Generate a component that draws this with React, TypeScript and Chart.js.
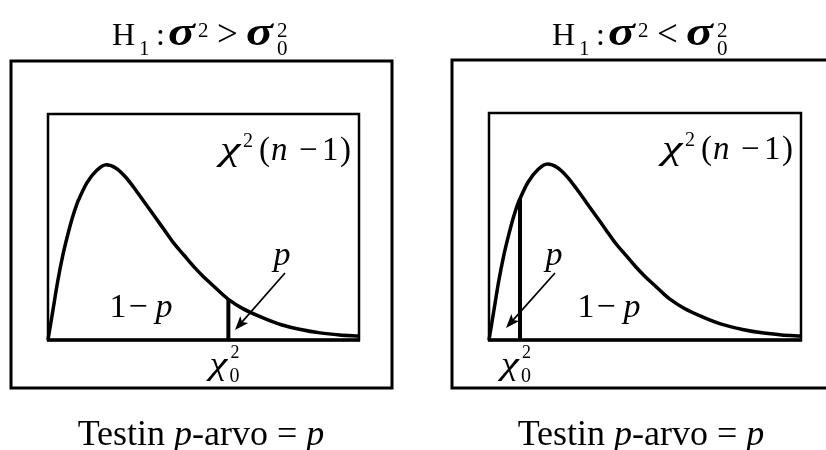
import React, { useEffect, useRef } from "react";
import { Chart, registerables } from "chart.js";

Chart.register(...registerables);

// Chi-square density with n-1 degrees of freedom, sampled along the x axis
const chiGrid = [0, 0.25, 0.5, 0.75, 1, 1.25, 1.5, 1.59, 2, 2.5, 3, 3.5, 4, 4.5, 5, 5.5, 6, 6.5, 7, 7.5, 8, 8.5, 9, 9.28, 10, 11, 12, 13, 14, 15, 16];
const chiDensity = [0, 0.026, 0.052, 0.074, 0.092, 0.108, 0.121, 0.1246, 0.139, 0.15, 0.155, 0.152, 0.144, 0.133, 0.121, 0.109, 0.097, 0.085, 0.075, 0.065, 0.056, 0.048, 0.04, 0.036, 0.028, 0.02, 0.0135, 0.0093, 0.0063, 0.0045, 0.0035];

// Observed test statistic for each alternative hypothesis
const upperStatistic = 9.28;
const upperStatisticDensity = 0.036;
const lowerStatistic = 1.59;
const lowerStatisticDensity = 0.1246;

const X_MAX = 16;
const Y_MAX = 0.2;

const FAM = '"Liberation Serif", "Times New Roman", serif';

type Piece = {
  t: string;
  px: number;
  it?: boolean;
  b?: boolean;
  dy?: number;
  at?: number; // fixed offset from the start of the run
  pre?: number; // extra space before the piece
  sx?: number; // horizontal stretch
  back?: boolean; // stack on the previous piece
};

function fontOf(p: Piece) {
  return `${p.it ? "italic " : ""}${p.b ? "bold " : ""}${p.px}px ${FAM}`;
}

function drawRich(ctx: CanvasRenderingContext2D, pieces: Piece[], x: number, y: number, align: "left" | "center" | "right") {
  let cx = 0;
  let prevStart = 0;
  let max = 0;
  const placed: { p: Piece; x: number }[] = [];
  for (const p of pieces) {
    ctx.font = fontOf(p);
    const w = ctx.measureText(p.t).width * (p.sx || 1);
    if (p.at !== undefined) cx = p.at;
    else if (p.back) cx = prevStart;
    else cx += p.pre || 0;
    placed.push({ p, x: cx });
    prevStart = cx;
    cx += w;
    max = Math.max(max, cx);
  }
  const start = align === "left" ? x : align === "center" ? x - max / 2 : x - max;
  ctx.save();
  ctx.fillStyle = "#000";
  ctx.textBaseline = "alphabetic";
  ctx.textAlign = "left";
  for (const { p, x: px } of placed) {
    ctx.save();
    ctx.font = fontOf(p);
    ctx.translate(start + px, y + (p.dy || 0));
    if (p.sx) ctx.scale(p.sx, 1);
    ctx.fillText(p.t, 0, 0);
    ctx.restore();
  }
  ctx.restore();
}

function arrow(ctx: CanvasRenderingContext2D, x1: number, y1: number, x2: number, y2: number) {
  const ang = Math.atan2(y2 - y1, x2 - x1);
  const head = 15;
  const spread = 0.36;
  ctx.save();
  ctx.strokeStyle = "#000";
  ctx.fillStyle = "#000";
  ctx.lineWidth = 1.7;
  ctx.beginPath();
  ctx.moveTo(x1, y1);
  ctx.lineTo(x2 - Math.cos(ang) * head * 0.7, y2 - Math.sin(ang) * head * 0.7);
  ctx.stroke();
  ctx.beginPath();
  ctx.moveTo(x2, y2);
  ctx.lineTo(x2 - head * Math.cos(ang - spread), y2 - head * Math.sin(ang - spread));
  ctx.lineTo(x2 - head * 0.72 * Math.cos(ang), y2 - head * 0.72 * Math.sin(ang));
  ctx.lineTo(x2 - head * Math.cos(ang + spread), y2 - head * Math.sin(ang + spread));
  ctx.closePath();
  ctx.fill();
  ctx.restore();
}

type PanelSpec = {
  relation: string;
  statistic: number;
  statisticDensity: number;
  padding: { left: number; right: number; top: number; bottom: number };
  outer: { x1: number; y1: number; x2: number; y2: number };
  titleLeft: number;
  captionX: number;
  oneMinusPX: number; // centre of "1 − p"
  pLabelX: number; // centre of "p"
  arrowFrom: [number, number];
  arrowTo: [number, number];
};

const panels: PanelSpec[] = [
  {
    relation: ">",
    statistic: upperStatistic,
    statisticDensity: upperStatisticDensity,
    padding: { left: 48, right: 54, top: 114, bottom: 110 },
    outer: { x1: 11, y1: 61, x2: 392, y2: 388 },
    titleLeft: 112,
    captionX: 201,
    oneMinusPX: 141,
    pLabelX: 282,
    arrowFrom: [285, 273],
    arrowTo: [235, 330],
  },
  {
    relation: "<",
    statistic: lowerStatistic,
    statisticDensity: lowerStatisticDensity,
    padding: { left: 76, right: 25, top: 113, bottom: 110 },
    outer: { x1: 39, y1: 60, x2: 440, y2: 388 },
    titleLeft: 139,
    captionX: 228,
    oneMinusPX: 196,
    pLabelX: 141,
    arrowFrom: [142, 273],
    arrowTo: [93, 328],
  },
];

function Panel({ spec }: { spec: PanelSpec }) {
  const ref = useRef<HTMLCanvasElement>(null);
  useEffect(() => {
    const canvas = ref.current!;
    const decor = {
      id: "decor",
      afterDraw(chart: any) {
        const ctx: CanvasRenderingContext2D = chart.ctx;
        const a = chart.chartArea;
        const xs = chart.scales.x;
        ctx.save();
        ctx.strokeStyle = "#000";
        // outer frame
        ctx.lineWidth = 3;
        const o = spec.outer;
        ctx.strokeRect(o.x1, o.y1, o.x2 - o.x1, o.y2 - o.y1);
        // plot frame
        ctx.lineWidth = 2.5;
        ctx.strokeRect(a.left, a.top, a.right - a.left, a.bottom - a.top);
        ctx.lineWidth = 3.5;
        ctx.beginPath();
        ctx.moveTo(a.left - 1, a.bottom);
        ctx.lineTo(a.right + 1, a.bottom);
        ctx.stroke();
        ctx.restore();

        // hypothesis title
        drawRich(ctx, [
          { t: "H", px: 32, at: 0 },
          { t: "1", px: 21, dy: 10, at: 27 },
          { t: ":", px: 32, at: 44 },
          { t: "σ", px: 40, it: true, b: true, sx: 1.25, at: 56 },
          { t: "2", px: 21, dy: -8, at: 86 },
          { t: spec.relation, px: 37, dy: 1, at: 105 },
          { t: "σ", px: 40, it: true, b: true, sx: 1.25, at: 134 },
          { t: "2", px: 21, dy: -8, at: 165 },
          { t: "0", px: 21, dy: 10, at: 165 },
        ], spec.titleLeft, 45, "left");

        // distribution label
        drawRich(ctx, [
          { t: "χ", px: 33, it: true, sx: 1.4, at: 0 },
          { t: "2", px: 20, dy: -13, at: 23 },
          { t: "(", px: 33, at: 39 },
          { t: "n", px: 33, it: true, at: 51 },
          { t: "−", px: 33, at: 79 },
          { t: "1", px: 33, at: 102 },
          { t: ")", px: 33, at: 120 },
        ], a.right - 139, a.top + 46, "left");

        // area labels
        drawRich(ctx, [
          { t: "1", px: 34 },
          { t: "−", px: 34, pre: 2 },
          { t: "p", px: 34, it: true, pre: 8 },
        ], spec.oneMinusPX, 317, "center");
        drawRich(ctx, [{ t: "p", px: 34, it: true }], spec.pLabelX, 265, "center");
        arrow(ctx, spec.arrowFrom[0], spec.arrowFrom[1], spec.arrowTo[0], spec.arrowTo[1]);

        // test statistic marker label
        const sx = xs.getPixelForValue(spec.statistic);
        drawRich(ctx, [
          { t: "χ", px: 31, it: true, sx: 1.3, at: 0 },
          { t: "2", px: 18, dy: -16, at: 21 },
          { t: "0", px: 20, dy: 8, at: 20 },
        ], sx - 19, 374, "left");

        // conclusion
        drawRich(ctx, [
          { t: "Testin ", px: 36 },
          { t: "p", px: 36, it: true },
          { t: "-arvo = ", px: 36 },
          { t: "p", px: 36, it: true },
        ], spec.captionX, 445, "center");
      },
    };

    const chart = new Chart(canvas, {
      type: "scatter",
      data: {
        datasets: [
          {
            data: chiGrid.map((x, i) => ({ x, y: chiDensity[i] })),
            showLine: true,
            borderColor: "#000",
            borderWidth: 3.5,
            pointRadius: 0,
            cubicInterpolationMode: "monotone",
            clip: 6,
          } as any,
          {
            data: [
              { x: spec.statistic, y: 0 },
              { x: spec.statistic, y: spec.statisticDensity },
            ],
            showLine: true,
            borderColor: "#000",
            borderWidth: 4,
            pointRadius: 0,
          } as any,
        ],
      },
      options: {
        responsive: false,
        animation: false,
        events: [],
        layout: { padding: spec.padding },
        scales: {
          x: { type: "linear", min: 0, max: X_MAX, display: false },
          y: { type: "linear", min: 0, max: Y_MAX, display: false },
        },
        plugins: { legend: { display: false }, tooltip: { enabled: false } },
      },
      plugins: [decor],
    });
    return () => chart.destroy();
  }, [spec]);
  return <canvas ref={ref} width={413} height={450} style={{ display: "block", width: 413, height: 450 }} />;
}

export default function App() {
  return (
    <div style={{ position: "fixed", left: 0, top: 0, width: 826, height: 450, background: "#fff", display: "flex", overflow: "hidden" }}>
      {panels.map((p, i) => (
        <Panel key={i} spec={p} />
      ))}
    </div>
  );
}
